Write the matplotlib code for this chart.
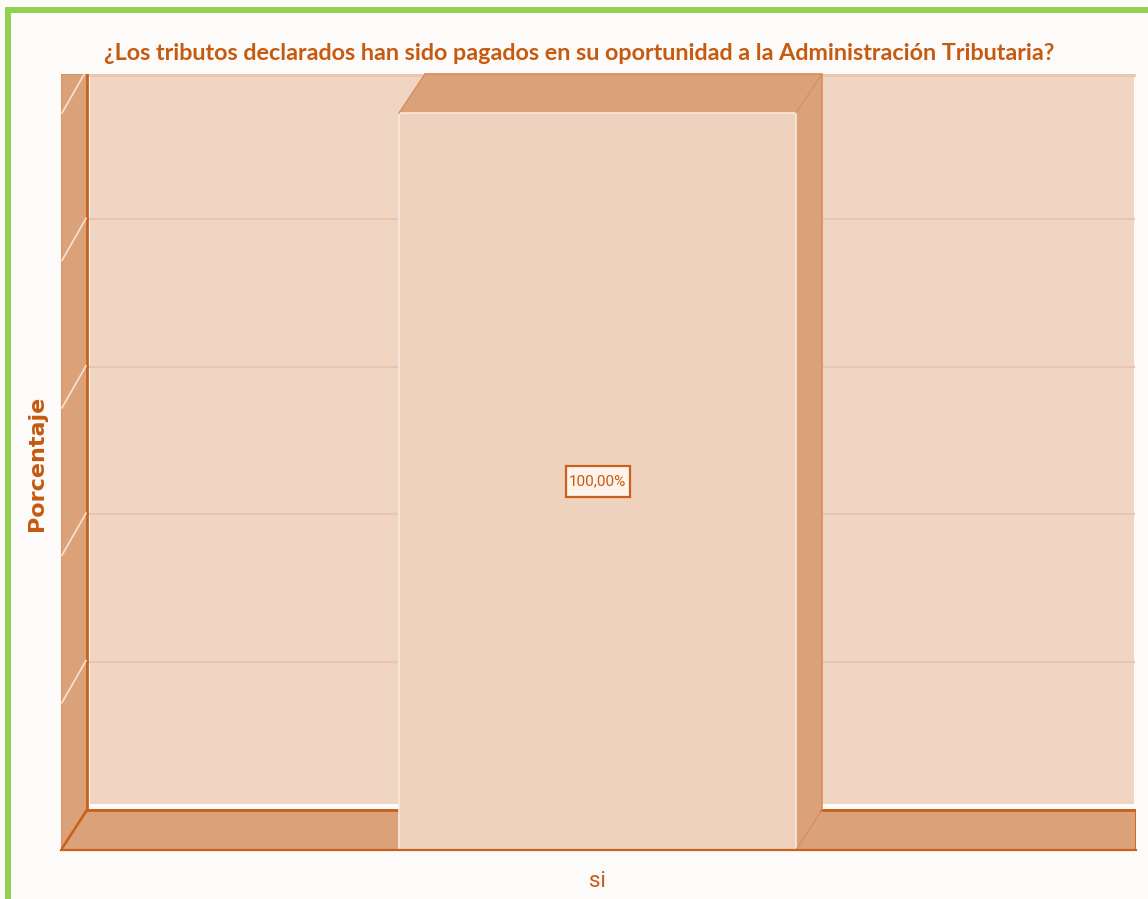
#!/usr/bin/env python3
# -*- coding: utf-8 -*-
import matplotlib
matplotlib.use("Agg")
import matplotlib.pyplot as plt
from matplotlib.patches import Polygon, Rectangle

#--------------------------------Chart data-------------------------------------
categories = ["si"]
values = [100.0]
value_labels = ["100,00%"]
grid_values = [20, 40, 60, 80]
title = "¿Los tributos declarados han sido pagados en su oportunidad a la Administración Tributaria?"
y_label = "Porcentaje"

#--------------------------------Colours---------------------------------------
BG = "#fdfbf9"
GREEN = "#92d250"
WALL = "#f0d5c3"
FACE = "#eed2bd"
SIDE = "#dba27a"
LINE = "#c8611c"
SOFT = "#d58d5c"
TEXT = "#c55a11"
GRID = "#e9c6ad"


def main():
    W, H = 1148, 899
    fig = plt.figure(figsize=(W / 100, H / 100), dpi=100, facecolor=BG)

    #------------------------------Green frame----------------------------------
    fig.add_artist(Rectangle((5 / W, 1 - 899 / H), 5.5 / W, 892 / H, transform=fig.transFigure,
                             facecolor=GREEN, edgecolor="none"))
    fig.add_artist(Rectangle((5 / W, 1 - 12.5 / H), 1143 / W, 5.5 / H, transform=fig.transFigure,
                             facecolor=GREEN, edgecolor="none"))

    #------------------------------Axes: front plane-----------------------------
    # 1 x unit = one bar width (397 px), 1 y unit = 1 % (7.37 px)
    left, right, top, bottom = 61, 1136, 74, 850
    ax = fig.add_axes([left / W, 1 - bottom / H, (right - left) / W, (bottom - top) / H])
    ax.set_facecolor("none")
    x_unit, y_unit = 397.0, 7.37
    ax.set_xlim((left - 597.5) / x_unit, (right - 597.5) / x_unit)
    ax.set_ylim(0, (bottom - top) / y_unit)
    x0, x1 = ax.get_xlim()
    y1 = ax.get_ylim()[1]
    dx, dy = 26 / x_unit, 42 / y_unit  # 3D depth
    x_end = x1 - 2 / x_unit

    #------------------------------Walls and floor-------------------------------
    ax.add_patch(Rectangle((x0 + dx + 3 / x_unit, dy + 4 / y_unit), x_end - x0 - dx - 3 / x_unit, y1,
                           facecolor=WALL, edgecolor="none", zorder=1))
    ax.plot([x0 + dx + 3 / x_unit, x_end], [y1 - 1 / y_unit] * 2, color=GRID, linewidth=2, zorder=1.5)
    ax.add_patch(Polygon([(x0, 0), (x0 + dx, dy), (x0 + dx, y1), (x0, y1)],
                         facecolor=SIDE, edgecolor=SOFT, linewidth=1, zorder=2))
    ax.add_patch(Polygon([(x0, 0), (x1, 0), (x1, dy - 2 / y_unit), (x0 + dx, dy - 2 / y_unit)],
                         facecolor=SIDE, edgecolor=LINE, linewidth=1.2, zorder=2))
    ax.plot([x0 + dx, x1], [dy - 2 / y_unit] * 2, color=LINE, linewidth=2, zorder=3)
    ax.plot([x0 + dx, x0 + dx], [dy - 2 / y_unit, y1], color=LINE, linewidth=2, zorder=3)
    ax.plot([x0, x0 + dx], [0, dy - 2 / y_unit], color=LINE, linewidth=1.8, zorder=3)

    for v in grid_values:
        ax.plot([x0 + dx + 3 / x_unit, x_end], [v + dy - 1 / y_unit] * 2, color=GRID, linewidth=1.5, zorder=1.5)
    for v in grid_values + [100]:
        ax.plot([x0 + 1 / x_unit, x0 + dx - 1 / x_unit], [v, v + dy], color="#f6e2d3", linewidth=1.2, zorder=3)

    #------------------------------Bar-------------------------------------------
    positions = list(range(len(categories)))
    ax.bar(positions, values, width=1.0, color=FACE, edgecolor="#f8e9dd", linewidth=1.2, zorder=5)
    for p, v, lab in zip(positions, values, value_labels):
        xl, xr = p - 0.5, p + 0.5
        ax.add_patch(Polygon([(xr, 0), (xr + dx, dy), (xr + dx, y1), (xr, v)],
                             facecolor=SIDE, edgecolor="none", zorder=4))
        ax.add_patch(Polygon([(xl, v), (xl + dx, y1), (xr + dx, y1), (xr, v)],
                             facecolor=SIDE, edgecolor="none", zorder=4))
        ax.plot([xl, xl + dx], [v, y1], color=SOFT, linewidth=1, zorder=6)
        ax.plot([xr, xr + dx], [v, y1], color=SOFT, linewidth=0.8, zorder=6)
        ax.plot([xr, xr + dx], [0, dy - 2 / y_unit], color=SOFT, linewidth=0.8, zorder=6)
        ax.plot([xr + dx, xr + dx], [dy, y1], color=SOFT, linewidth=1.2, zorder=6)
        ax.plot([xl + dx, xr + dx], [y1, y1], color=SOFT, linewidth=1.2, zorder=6, clip_on=False)
        # label box, 64 x 31 px
        ax.add_patch(Rectangle((p - 32 / x_unit, v / 2 - 15.5 / y_unit), 64 / x_unit, 31 / y_unit,
                               facecolor="#fdf3ea", edgecolor=LINE, linewidth=1.6, zorder=7.5))
        ax.text(p, v / 2, lab, ha="center", va="center", color=TEXT, fontsize=11, zorder=8,
                family="Roboto")
    ax.axhline(0, color=LINE, linewidth=1.6, zorder=7, clip_on=False)

    #------------------------------Axes text-------------------------------------
    ax.set_xticks(positions, categories)
    ax.set_yticks([])
    ax.tick_params(axis="x", length=0, pad=15, labelsize=16, labelcolor=TEXT)
    for lab in ax.get_xticklabels():
        lab.set_family("Roboto")
    for s in ax.spines.values():
        s.set_visible(False)

    fig.text(579 / W, 1 - 54 / H, title, ha="center", va="center", color=TEXT, fontsize=16.8,
             fontweight="bold", family="Lato")
    fig.text(37 / W, 1 - 463 / H, y_label, ha="center", va="center", rotation=90, color=TEXT,
             fontsize=16, fontweight="bold", family="DejaVu Sans")

    fig.savefig("out.png", dpi=100, facecolor=BG)


if __name__ == "__main__":
    main()
